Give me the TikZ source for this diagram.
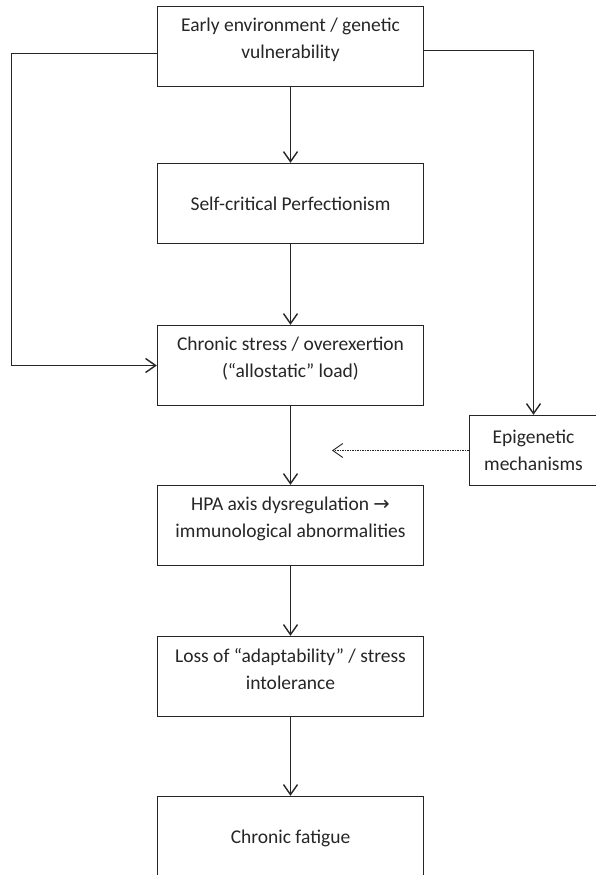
\documentclass[tikz,border=0pt]{standalone}
\usepackage{fontspec}
\setmainfont{Carlito}
\newfontfamily\arrowfont{DejaVu Sans}
\usepackage{tikz}
\usetikzlibrary{arrows.meta}
\usetikzlibrary{positioning}
\tikzset{
    box/.style={
        draw=black!85,
        line width=1.4pt,
        rectangle,
        fill=white,
        minimum width=266pt,
        minimum height=80pt,
        inner sep=0pt,
        align=center,
        text=black!85,
        font=\fontsize{19.5}{27}\selectfont
    },
    twoline/.style={text depth=16pt},
    oneline/.style={text depth=0pt},
    link/.style={
        draw=black!85,
        line width=1.4pt,
        -{Straight Barb[length=10pt, width=14pt]}
    }
}

\begin{document}
\begin{tikzpicture}[x=1pt, y=1pt]
    \path[use as bounding box, clip] (0,0) rectangle (596,-875);
    \fill[white] (0,0) rectangle (596,-875);
    % Boxes
    \node[box, twoline] (early) at (290.5,-46.5) {Early environment / genetic\\vulnerability};
    \node[box, oneline] (selfcrit) at (290.5,-203.5) {Self-critical Perfectionism};
    \node[box, twoline] (stress) at (290.5,-365.5) {Chronic stress / overexertion\\(“allostatic” load)};
    \node[box, twoline] (hpa) at (290.5,-525.5) {HPA axis dysregulation {\arrowfont →}\\immunological abnormalities};
    \node[box, twoline] (loss) at (290.5,-676.5) {Loss of “adaptability” / stress\\intolerance};
    \node[box, minimum height=84pt] (fatigue) at (290.5,-838.5) {Chronic fatigue};
    \node[box, minimum width=128pt, minimum height=70pt] (epi) at (533.5,-450.5) {Epigenetic\\mechanisms};

    % Bend and free end
    \coordinate (lbend) at (11.5,-200);
    \coordinate (epitarget) at (332,-450.5);

    % Arrows
    \draw[link] (early) -- (selfcrit);
    \draw[link] (selfcrit) -- (stress);
    \draw[link] (stress) -- (hpa);
    \draw[link] (hpa) -- (loss);
    \draw[link] (loss) -- (fatigue);
    \draw[link] ([yshift=-7pt]early.west) -| (lbend) |- (stress.west);
    \draw[link] ([yshift=-4pt]early.east) -| (epi.north);
    \draw[link, line width=0.9pt, dash pattern=on 1.5pt off 1pt] (epi) -- (epitarget);
\end{tikzpicture}
\end{document}
